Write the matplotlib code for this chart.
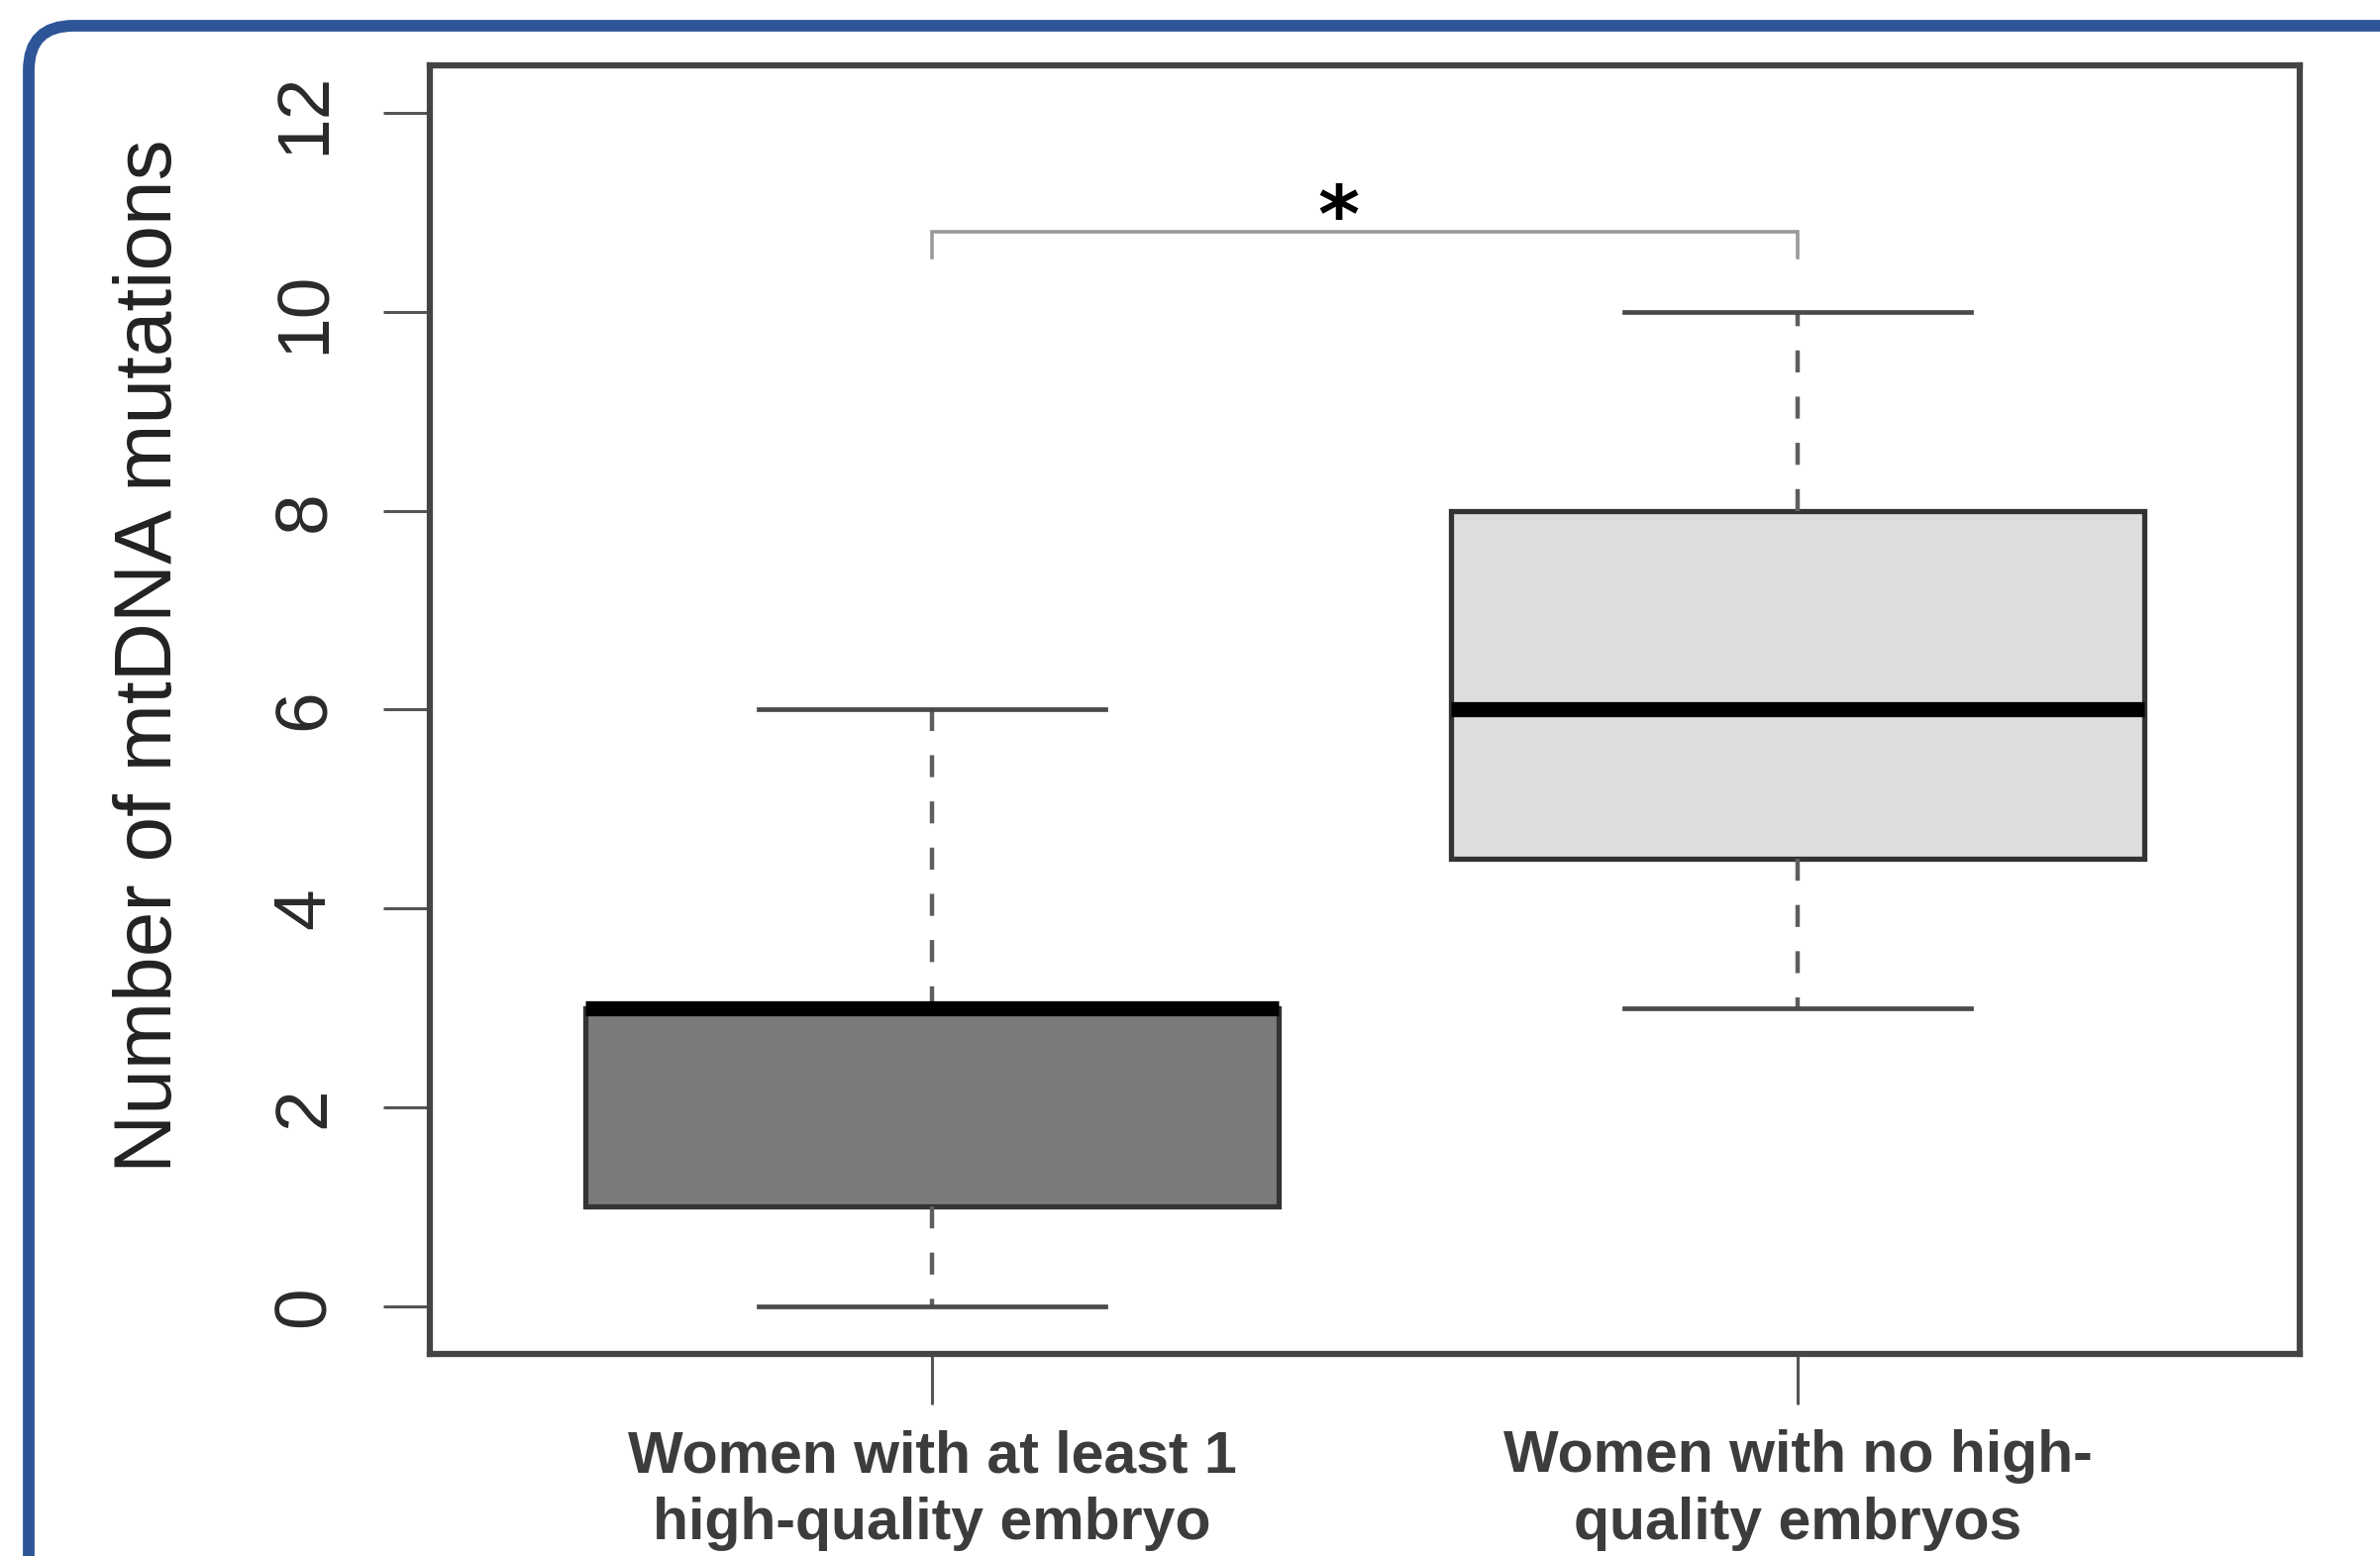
import matplotlib
matplotlib.use("Agg")
import matplotlib.pyplot as plt
from matplotlib.patches import FancyBboxPatch

# summary statistics per group (number of mtDNA mutations)
groups = ["Women with at least 1\nhigh-quality embryo",
          "Women with no high-\nquality embryos"]
whisker_low = [0, 3]
q1 = [1, 4.5]
median = [3, 6]
q3 = [3, 8]
whisker_high = [6, 10]
fills = ["#7b7b7b", "#dddddd"]

# significance bracket between the two groups
bracket_y = 10.81
bracket_drop = 10.55
star_label = "*"

W, H, DPI = 2403, 1571, 100
fig = plt.figure(figsize=(W / DPI, H / DPI), dpi=DPI)
ax = fig.add_axes([0.1806, 0.1299, 0.9663 - 0.1806, 0.958 - 0.1299])

stats = []
for i in range(len(groups)):
    stats.append(dict(med=median[i], q1=q1[i], q3=q3[i],
                      whislo=whisker_low[i], whishi=whisker_high[i], fliers=[]))

edge = "#333333"
bp = ax.bxp(stats, positions=[1, 2], widths=0.8, capwidths=0.4,
            patch_artist=True, showfliers=False,
            boxprops=dict(edgecolor=edge, linewidth=3.8),
            medianprops=dict(color="black", linewidth=11, solid_capstyle="butt"),
            whiskerprops=dict(color="#5e5e5e", linewidth=3.2, linestyle=(0, (5, 5.5))),
            capprops=dict(color="#4a4a4a", linewidth=3.4))
for patch, c in zip(bp["boxes"], fills):
    patch.set_facecolor(c)

ax.plot([1, 1, 2, 2], [bracket_drop, bracket_y, bracket_y, bracket_drop],
        color="#9a9a9a", lw=2.6, solid_joinstyle="miter")
ax.text(1.47, bracket_y - 0.27, star_label, ha="center", va="bottom",
        fontsize=58, fontweight="bold", color="black", family="DejaVu Sans")

ax.set_xlim(0.42, 2.58)
ax.set_ylim(-0.48, 12.48)
ax.set_yticks([0, 2, 4, 6, 8, 10, 12])
ax.set_yticklabels(["0", "2", "4", "6", "8", "10", "12"], rotation=90,
                   va="center", fontsize=54, family="Liberation Sans", color="#2a2a2a")
ax.set_xticks([1, 2])
ax.set_xticklabels(groups, fontsize=42.5, fontweight="bold", color="#3c3c3c",
                   family="Liberation Sans", linespacing=1.3)
ax.tick_params(axis="y", length=34, width=2.2, color="#555555", pad=32)
ax.tick_params(axis="x", length=37, width=2.2, color="#555555", pad=18)

for s in ax.spines.values():
    s.set_linewidth(4.5)
    s.set_color("#444444")

ax.set_ylabel("Number of mtDNA mutations", fontsize=59, family="Liberation Sans",
              color="#222222")
ax.yaxis.set_label_coords(-0.129, 0.542)

# rounded blue panel border, running off the right and bottom edges
frame = FancyBboxPatch((29, -200), W + 300, H - 26 + 200,
                       boxstyle="round,pad=0,rounding_size=45",
                       transform=None, facecolor="none",
                       edgecolor="#2e5597", linewidth=8.5)
fig.add_artist(frame)

fig.savefig("out.png", dpi=DPI, facecolor="white")
